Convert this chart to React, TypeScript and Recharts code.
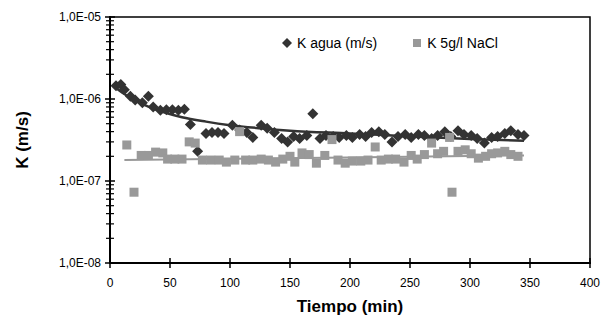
import React from "react";
import { ComposedChart, Scatter, Line, XAxis, YAxis } from "recharts";

// K agua (m/s) - dark diamonds
const aguaT = [5, 9, 12, 17, 21, 27, 32, 36, 42, 47, 52, 57, 62, 67, 73, 80, 85, 90, 95, 102, 108, 114, 119, 126, 131, 137, 143, 148, 153, 158, 164, 169, 175, 180, 186, 191, 197, 202, 208, 213, 218, 224, 229, 235, 240, 246, 251, 257, 262, 268, 273, 279, 284, 290, 295, 301, 306, 312, 318, 323, 329, 334, 340, 345];
const aguaK = [1.45e-6, 1.5e-6, 1.3e-6, 1.08e-6, 9.7e-7, 9.0e-7, 1.08e-6, 8.0e-7, 7.3e-7, 7.4e-7, 7.4e-7, 7.3e-7, 7.5e-7, 4.9e-7, 2.3e-7, 3.8e-7, 3.9e-7, 3.9e-7, 3.8e-7, 4.8e-7, 4.2e-7, 3.9e-7, 3.4e-7, 4.8e-7, 4.4e-7, 3.9e-7, 3.3e-7, 3.0e-7, 3.5e-7, 3.3e-7, 3.6e-7, 6.6e-7, 3.3e-7, 3.6e-7, 3.5e-7, 3.4e-7, 3.6e-7, 3.4e-7, 3.7e-7, 3.5e-7, 3.9e-7, 4.0e-7, 3.7e-7, 3.0e-7, 3.5e-7, 3.7e-7, 3.4e-7, 3.7e-7, 3.6e-7, 3.3e-7, 3.6e-7, 4.0e-7, 3.5e-7, 4.1e-7, 3.7e-7, 3.6e-7, 3.3e-7, 2.9e-7, 3.4e-7, 3.5e-7, 3.8e-7, 4.1e-7, 3.7e-7, 3.6e-7];

// K 5g/l NaCl - gray squares
const naclT = [14, 20, 26, 32, 38, 44, 48, 54, 60, 66, 71, 77, 84, 91, 97, 104, 108, 113, 119, 126, 132, 138, 144, 150, 154, 160, 166, 172, 179, 185, 190, 196, 202, 209, 215, 221, 226, 232, 238, 245, 251, 256, 262, 268, 273, 278, 283, 285, 290, 296, 301, 307, 313, 318, 323, 329, 334, 340];
const naclK = [2.75e-7, 7.3e-8, 2.05e-7, 2.05e-7, 2.25e-7, 2.2e-7, 1.85e-7, 1.85e-7, 1.85e-7, 3.0e-7, 2.9e-7, 1.8e-7, 1.8e-7, 1.8e-7, 1.7e-7, 1.8e-7, 4.0e-7, 1.8e-7, 1.8e-7, 1.85e-7, 1.8e-7, 1.7e-7, 1.85e-7, 2.0e-7, 1.7e-7, 2.2e-7, 2.1e-7, 1.65e-7, 2.05e-7, 3.2e-7, 1.8e-7, 1.65e-7, 1.75e-7, 1.75e-7, 1.8e-7, 2.6e-7, 1.8e-7, 1.85e-7, 1.85e-7, 1.7e-7, 2.05e-7, 1.85e-7, 2.1e-7, 2.9e-7, 2.15e-7, 2.3e-7, 3.4e-7, 7.3e-8, 2.3e-7, 2.4e-7, 2.15e-7, 1.9e-7, 2.0e-7, 2.15e-7, 2.2e-7, 2.3e-7, 2.1e-7, 2.0e-7];

// trend lines
const aguaTrendT = [4, 10, 20, 30, 45, 60, 80, 100, 125, 150, 200, 250, 300, 345];
const aguaTrendK = [1.4e-6, 1.2e-6, 9.8e-7, 8.3e-7, 6.9e-7, 6.0e-7, 5.3e-7, 4.8e-7, 4.4e-7, 4.1e-7, 3.8e-7, 3.5e-7, 3.25e-7, 3.1e-7];
const naclTrendT = [12, 180, 345];
const naclTrendK = [1.8e-7, 1.92e-7, 2.05e-7];

const xTicks = [0, 50, 100, 150, 200, 250, 300, 350, 400];
const yMajor = [1e-8, 1e-7, 1e-6, 1e-5];
const yTickLabels = ["1,0E-08", "1,0E-07", "1,0E-06", "1,0E-05"];
const yMinor = yMajor.slice(0, 3).flatMap((d) => [2, 3, 4, 5, 6, 7, 8, 9].map((m) => m * d));

const zip = (t: number[], k: number[]) => t.map((v, i) => ({ t: v, k: k[i] }));
const aguaData = zip(aguaT, aguaK);
const naclData = zip(naclT, naclK);
const aguaTrend = zip(aguaTrendT, aguaTrendK);
const naclTrend = zip(naclTrendT, naclTrendK);

const FONT = "'Liberation Sans', Arial, sans-serif";
const DARK = "#333333";
const GRAY = "#999999";

// layout
const W = 616;
const H = 320;
const MARGIN = { top: 17, right: 26, bottom: 0, left: 0 };
const Y_AXIS_W = 110;
const X_AXIS_H = 57;
const PLOT_L = MARGIN.left + Y_AXIS_W;
const PLOT_R = W - MARGIN.right;
const PLOT_T = MARGIN.top;
const PLOT_B = H - MARGIN.bottom - X_AXIS_H;

// axis frame + crossing ticks, placed on the same plot box the chart uses
const xPos = (t: number) => PLOT_L + (t / xTicks[xTicks.length - 1]) * (PLOT_R - PLOT_L);
const yPos = (v: number) =>
  PLOT_B - ((Math.log10(v) - Math.log10(yMajor[0])) / (Math.log10(yMajor[3]) - Math.log10(yMajor[0]))) * (PLOT_B - PLOT_T);

function AxisFrame() {
  return (
    <svg width={W} height={H} style={{ position: "absolute", left: 0, top: 0, pointerEvents: "none" }}>
      <path d={`M${PLOT_L},${PLOT_T}H${PLOT_R}V${PLOT_B}`} stroke="#000" strokeWidth={1.5} fill="none" />
      <path d={`M${PLOT_L},${PLOT_T - 1}V${PLOT_B}H${PLOT_R + 1}`} stroke="#000" strokeWidth={2} fill="none" />
      {yMajor.map((v) => (
        <path key={`ym${v}`} d={`M${PLOT_L - 5},${yPos(v)}H${PLOT_L + 5}`} stroke="#000" strokeWidth={1.5} />
      ))}
      {yMinor.map((v) => (
        <path key={`yn${v}`} d={`M${PLOT_L - 4},${yPos(v)}H${PLOT_L + 4}`} stroke="#000" strokeWidth={1.2} />
      ))}
      {xTicks.map((t) => (
        <path key={`xt${t}`} d={`M${xPos(t)},${PLOT_B - 5}V${PLOT_B + 5}`} stroke="#000" strokeWidth={1.5} />
      ))}
    </svg>
  );
}

function YTick(props: any) {
  const { x, y, payload, index } = props;
  return (
    <text x={x - 9} y={y} dy={4} textAnchor="end" fontSize={12} fontFamily={FONT} fill="#000">
      {yTickLabels[index] ?? payload.value}
    </text>
  );
}

function XTick(props: any) {
  const { x, y, payload } = props;
  return (
    <text x={x} y={y} dy={24} textAnchor="middle" fontSize={12} fontFamily={FONT} fill="#000">
      {payload.value}
    </text>
  );
}

function Diamond(props: any) {
  const { cx, cy } = props;
  const r = 5.5;
  return <polygon points={`${cx},${cy - r} ${cx + r},${cy} ${cx},${cy + r} ${cx - r},${cy}`} fill={DARK} />;
}

function Square(props: any) {
  const { cx, cy } = props;
  const s = 9;
  return <rect x={cx - s / 2} y={cy - s / 2} width={s} height={s} fill={GRAY} />;
}

export default function App() {
  return (
    <div style={{ position: "absolute", left: 0, top: 0, width: W, height: H, background: "#fff", fontFamily: FONT }}>
      <ComposedChart width={W} height={H} margin={MARGIN}>
        <XAxis
          dataKey="t"
          type="number"
          domain={[0, 400]}
          ticks={xTicks}
          height={X_AXIS_H}
          tickSize={0}
          tickMargin={0}
          tick={<XTick />}
          axisLine={false}
          tickLine={false}
          label={{
            value: "Tiempo (min)",
            position: "insideBottom",
            offset: 8,
            style: { fontSize: 17, fontWeight: "bold", fontFamily: FONT, fill: "#000" },
          }}
        />
        <YAxis
          dataKey="k"
          type="number"
          scale="log"
          domain={[1e-8, 1e-5]}
          allowDataOverflow
          ticks={yMajor}
          width={Y_AXIS_W}
          tickSize={0}
          tickMargin={0}
          tick={<YTick />}
          axisLine={false}
          tickLine={false}
          label={{
            value: "K (m/s)",
            angle: -90,
            position: "center",
            dx: -33,
            style: { fontSize: 17, fontWeight: "bold", fontFamily: FONT, fill: "#000" },
          }}
        />
        <Scatter name="K agua (m/s)" data={aguaData} dataKey="k" shape={<Diamond />} isAnimationActive={false} />
        <Scatter name="K 5g/l NaCl" data={naclData} dataKey="k" shape={<Square />} isAnimationActive={false} />
        <Line data={aguaTrend} dataKey="k" type="monotone" stroke={DARK} strokeWidth={2.5} fill="none" dot={false} activeDot={false} isAnimationActive={false} />
        <Line data={naclTrend} dataKey="k" type="linear" stroke={GRAY} strokeWidth={2} fill="none" dot={false} activeDot={false} isAnimationActive={false} />
      </ComposedChart>
      <AxisFrame />
      <div style={{ position: "absolute", top: 35, left: 281, display: "flex", alignItems: "center", fontSize: 14, color: "#000", whiteSpace: "nowrap" }}>
        <svg width={12} height={12} style={{ marginRight: 4 }}>
          <polygon points="6,1 11,6 6,11 1,6" fill={DARK} />
        </svg>
        <span>K agua (m/s)</span>
        <svg width={10} height={10} style={{ marginLeft: 35, marginRight: 5 }}>
          <rect x={1} y={1} width={8} height={8} fill={GRAY} />
        </svg>
        <span>K 5g/l NaCl</span>
      </div>
    </div>
  );
}
